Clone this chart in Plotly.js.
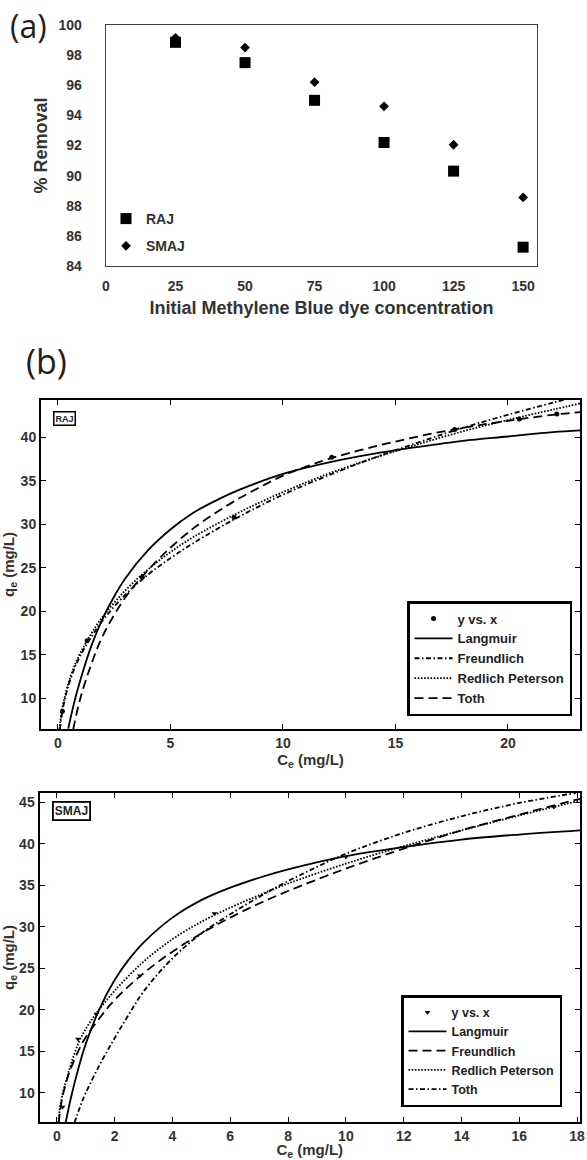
<!DOCTYPE html>
<html>
<head>
<meta charset="utf-8">
<script src="https://cdn.plot.ly/plotly-3.0.1.min.js"></script>
<style>html,body{margin:0;padding:0;background:#fff;}#chart{width:587px;height:1160px;}</style>
</head>
<body>
<div id="chart"></div>
<script>
// ---- Panel (a) data ----
var concentration = [25, 50, 75, 100, 125, 150];
var removalRAJ = [98.85, 97.5, 95.0, 92.2, 90.3, 85.25];
var removalSMAJ = [99.15, 98.5, 96.2, 94.6, 92.05, 88.55];

// ---- Panel (b) RAJ data ----
var rajCe = [0.2, 1.3, 3.75, 7.83, 12.17, 17.63, 20.5, 22.17];
var rajQe = [8.5, 16.6, 23.9, 30.8, 37.7, 40.9, 42.1, 42.7];
var rajLangX = [0.46, 0.75, 1, 1.5, 2, 2.5, 3, 4, 5, 6, 7, 8, 10, 12, 14, 16, 18, 20, 22, 23.2];
var rajLangY = [6.5, 9.75, 12.1, 16.1, 19.2, 21.7, 23.8, 27.0, 29.4, 31.3, 32.7, 33.9, 35.8, 37.1, 38.1, 38.9, 39.6, 40.1, 40.6, 40.8];
var rajFreuX = [0.09, 0.2, 0.35, 0.5, 0.75, 1, 1.5, 2, 3, 4, 5, 6, 8, 10, 12, 14, 16, 18, 20, 22, 22.6];
var rajFreuY = [6.4, 8.5, 10.3, 11.7, 13.5, 14.9, 17.1, 19.0, 21.9, 24.2, 26.1, 27.8, 30.8, 33.4, 35.6, 37.6, 39.4, 41.1, 42.6, 44.0, 44.4];
var rajRPX = [0.07, 0.1, 0.2, 0.35, 0.5, 0.75, 1, 1.5, 2, 3, 4, 5, 6, 8, 10, 12, 14, 16, 18, 20, 22, 23.2];
var rajRPY = [6.4, 7.2, 8.9, 10.6, 12.0, 13.8, 15.2, 17.5, 19.4, 22.4, 24.8, 26.8, 28.5, 31.3, 33.7, 35.8, 37.6, 39.2, 40.7, 42.0, 43.2, 43.9];
var rajTothX = [0.68, 1, 1.5, 2, 3, 4, 5, 6, 7, 8, 9, 10, 11, 12, 14, 16, 18, 20, 22, 23.2];
var rajTothY = [6.4, 10.0, 14.0, 17.2, 21.6, 24.7, 27.3, 29.5, 31.3, 32.9, 34.3, 35.6, 36.6, 37.5, 38.9, 40.1, 41.1, 41.9, 42.6, 42.9];

// ---- Panel (b) SMAJ data ----
var smajCe = [0.2, 0.73, 1.37, 2.87, 5.45, 10.0, 17.2];
var smajQe = [8.3, 16.5, 19.5, 24.1, 31.6, 38.4, 44.4];
var smajLangX = [0.31, 0.5, 0.75, 1, 1.5, 2, 2.5, 3, 4, 5, 6, 7, 8, 10, 12, 14, 16, 18.1];
var smajLangY = [6.5, 9.6, 13.0, 15.9, 20.3, 23.6, 26.1, 28.1, 31.1, 33.2, 34.7, 35.9, 36.9, 38.5, 39.6, 40.5, 41.1, 41.6];
var smajFreuX = [0.066, 0.1, 0.2, 0.35, 0.5, 0.75, 1, 1.5, 2, 3, 4, 5, 6, 7, 8, 10, 12, 14, 16, 18.1];
var smajFreuY = [6.4, 7.5, 9.6, 11.6, 13.1, 15.1, 16.7, 19.1, 21.2, 24.4, 27.0, 29.2, 31.1, 32.8, 34.3, 37.0, 39.4, 41.6, 43.5, 45.4];
var smajRPX = [0.05, 0.1, 0.2, 0.35, 0.5, 0.75, 1, 1.37, 2, 3, 4, 5, 6, 7, 8, 10, 12, 14, 16, 18.1];
var smajRPY = [6.4, 8.0, 9.9, 11.8, 13.6, 16.0, 17.7, 19.6, 22.3, 25.8, 28.5, 30.6, 32.3, 33.8, 35.2, 37.6, 39.7, 41.6, 43.4, 45.2];
var smajTothX = [0.61, 0.8, 1, 1.5, 2, 2.5, 3, 4, 5, 6, 7, 8, 9, 10, 12, 14, 16, 17.95];
var smajTothY = [6.4, 8.3, 10.0, 13.5, 16.6, 19.5, 22.2, 26.2, 29.2, 31.5, 33.6, 35.5, 37.2, 38.8, 41.3, 43.3, 44.9, 46.1];

var xTicksA = [0, 25, 50, 75, 100, 125, 150];

var W = 587, H = 1160;
function px(x) { return x / W; }
function py(y) { return 1 - y / H; }

var ARIAL = 'Arial, "Liberation Sans", sans-serif';
var NARROW = '"Liberation Sans Narrow", "Arial Narrow", Arial, "Liberation Sans", sans-serif';
var DASHDOT = '5px,2.5px,1.5px,2.5px';
var DOTTED = '1.6px,1.6px';
var DASHED = '9px,5px';
var LW = 1.8;

var traces = [
  // Panel (a)
  {x: concentration, y: removalSMAJ, type: 'scatter', mode: 'markers', name: 'SMAJ',
   xaxis: 'x', yaxis: 'y', legend: 'legend', legendrank: 2, legendgroup: 'smaj',
   marker: {symbol: 'diamond', size: 7.5, color: '#000'}},
  {x: concentration, y: removalRAJ, type: 'scatter', mode: 'markers', name: 'RAJ',
   xaxis: 'x', yaxis: 'y', legend: 'legend', legendrank: 1, legendgroup: 'raj',
   marker: {symbol: 'square', size: 11, color: '#000'}},

  // RAJ
  {x: rajCe, y: rajQe, type: 'scatter', mode: 'markers', name: 'y vs. x',
   xaxis: 'x2', yaxis: 'y2', legend: 'legend2', marker: {symbol: 'circle', size: 5, color: '#000'}},
  {x: rajLangX, y: rajLangY, type: 'scatter', mode: 'lines', name: 'Langmuir',
   xaxis: 'x2', yaxis: 'y2', legend: 'legend2', line: {color: '#000', width: LW, shape: 'spline', dash: 'solid'}},
  {x: rajFreuX, y: rajFreuY, type: 'scatter', mode: 'lines', name: 'Freundlich',
   xaxis: 'x2', yaxis: 'y2', legend: 'legend2', line: {color: '#000', width: LW, shape: 'spline', dash: DASHDOT}},
  {x: rajRPX, y: rajRPY, type: 'scatter', mode: 'lines', name: 'Redlich Peterson',
   xaxis: 'x2', yaxis: 'y2', legend: 'legend2', line: {color: '#000', width: LW, shape: 'spline', dash: DOTTED}},
  {x: rajTothX, y: rajTothY, type: 'scatter', mode: 'lines', name: 'Toth',
   xaxis: 'x2', yaxis: 'y2', legend: 'legend2', line: {color: '#000', width: LW, shape: 'spline', dash: DASHED}},

  // SMAJ
  {x: smajCe, y: smajQe, type: 'scatter', mode: 'markers', name: 'y vs. x',
   xaxis: 'x3', yaxis: 'y3', legend: 'legend3', marker: {symbol: 'triangle-down', size: 5, color: '#000'}},
  {x: smajLangX, y: smajLangY, type: 'scatter', mode: 'lines', name: 'Langmuir',
   xaxis: 'x3', yaxis: 'y3', legend: 'legend3', line: {color: '#000', width: LW, shape: 'spline', dash: 'solid'}},
  {x: smajFreuX, y: smajFreuY, type: 'scatter', mode: 'lines', name: 'Freundlich',
   xaxis: 'x3', yaxis: 'y3', legend: 'legend3', line: {color: '#000', width: LW, shape: 'spline', dash: DASHED}},
  {x: smajRPX, y: smajRPY, type: 'scatter', mode: 'lines', name: 'Redlich Peterson',
   xaxis: 'x3', yaxis: 'y3', legend: 'legend3', line: {color: '#000', width: LW, shape: 'spline', dash: DOTTED}},
  {x: smajTothX, y: smajTothY, type: 'scatter', mode: 'lines', name: 'Toth',
   xaxis: 'x3', yaxis: 'y3', legend: 'legend3', line: {color: '#000', width: LW, shape: 'spline', dash: DASHDOT}}
];

var tickFontA = {family: ARIAL, size: 14, weight: 'bold', color: '#333'};
var tickFontB = {family: ARIAL, size: 14, weight: 'bold', color: '#333'};
var titleFontB = {family: ARIAL, size: 15, weight: 'bold', color: '#333'};

function bAxisCommon() {
  return {
    showline: true, linecolor: '#000', linewidth: 2, mirror: 'ticks',
    ticks: 'inside', ticklen: 5, tickwidth: 1, tickcolor: '#000',
    showgrid: false, zeroline: false, tickfont: tickFontB, fixedrange: true
  };
}

var layout = {
  width: W, height: H,
  margin: {l: 0, r: 0, t: 0, b: 0},
  paper_bgcolor: '#fff', plot_bgcolor: '#fff',
  showlegend: true,
  xaxis: {
    domain: [px(106), px(537)], range: [0, 155], tickvals: xTicksA,
    showline: true, mirror: true, linecolor: '#404040', linewidth: 1.3,
    ticks: '', showgrid: false, zeroline: false, tickfont: tickFontA,
    ticklabelstandoff: 7, anchor: 'y',
    title: {text: 'Initial Methylene Blue dye concentration', standoff: 8,
            font: {family: ARIAL, size: 18, weight: 'bold', color: '#333'}}
  },
  yaxis: {
    domain: [py(266), py(25)], range: [84, 100], dtick: 2, tick0: 84,
    showline: true, mirror: true, linecolor: '#404040', linewidth: 1.3,
    ticks: '', showgrid: false, zeroline: false,
    tickfont: {family: NARROW, size: 14, weight: 'bold', color: '#333'},
    ticklabelstandoff: 20, anchor: 'x',
    title: {text: '% Removal', standoff: 6,
            font: {family: ARIAL, size: 18, weight: 'bold', color: '#333'}}
  },
  xaxis2: Object.assign(bAxisCommon(), {
    domain: [px(41), px(580)], range: [-0.75, 23.2], tickvals: [0, 5, 10, 15, 20], anchor: 'y2',
    title: {text: 'C<sub>e</sub> (mg/L)', standoff: 2, font: titleFontB}
  }),
  yaxis2: Object.assign(bAxisCommon(), {
    domain: [py(729), py(400)], range: [6.45, 44.3], tickvals: [10, 15, 20, 25, 30, 35, 40], anchor: 'x2',
    title: {text: 'q<sub>e</sub> (mg/L)', standoff: 4, font: titleFontB}
  }),
  xaxis3: Object.assign(bAxisCommon(), {
    domain: [px(39.5), px(580)], range: [-0.6, 18.1], tickvals: [0, 2, 4, 6, 8, 10, 12, 14, 16, 18], anchor: 'y3',
    title: {text: 'C<sub>e</sub> (mg/L)', standoff: 2, font: titleFontB}
  }),
  yaxis3: Object.assign(bAxisCommon(), {
    domain: [py(1122), py(793)], range: [6.5, 46.1], tickvals: [10, 15, 20, 25, 30, 35, 40, 45], anchor: 'x3',
    title: {text: 'q<sub>e</sub> (mg/L)', standoff: 4, font: titleFontB}
  }),
  legend: {
    x: px(106), xanchor: 'left', y: py(203), yanchor: 'top',
    bgcolor: 'rgba(0,0,0,0)', borderwidth: 0, tracegroupgap: 6, traceorder: 'grouped',
    font: {family: ARIAL, size: 14, weight: 'bold', color: '#333'}
  },
  legend2: {
    x: px(572), xanchor: 'right', y: py(716), yanchor: 'bottom',
    bgcolor: '#fff', bordercolor: '#000', borderwidth: 2.5, itemwidth: 38,
    font: {family: ARIAL, size: 13, weight: 'bold', color: '#222'}
  },
  legend3: {
    x: px(562), xanchor: 'right', y: py(1107), yanchor: 'bottom',
    bgcolor: '#fff', bordercolor: '#000', borderwidth: 2.5, itemwidth: 38,
    font: {family: ARIAL, size: 12.5, weight: 'bold', color: '#222'}
  },
  annotations: [
    {text: '(a)', xref: 'paper', yref: 'paper', x: px(28.5), y: py(26), xanchor: 'center', yanchor: 'middle',
     showarrow: false, font: {family: '"Open Sans", "Noto Sans", sans-serif', size: 32, color: '#231f20'}},
    {text: '(b)', xref: 'paper', yref: 'paper', x: px(46), y: py(361), xanchor: 'center', yanchor: 'middle',
     showarrow: false, font: {family: '"Open Sans", "Noto Sans", sans-serif', size: 34, color: '#231f20'}},
    {text: 'RAJ', xref: 'paper', yref: 'paper', x: px(64.5), y: py(418), xanchor: 'center', yanchor: 'middle',
     showarrow: false, bordercolor: '#000', borderwidth: 1.5, borderpad: 1, bgcolor: '#fff',
     font: {family: ARIAL, size: 9, weight: 'bold', color: '#222'}},
    {text: 'SMAJ', xref: 'paper', yref: 'paper', x: px(71.7), y: py(811), xanchor: 'center', yanchor: 'middle',
     showarrow: false, bordercolor: '#000', borderwidth: 1.8, borderpad: 1, bgcolor: '#fff',
     font: {family: ARIAL, size: 12, weight: 'bold', color: '#222'}}
  ]
};

Plotly.newPlot('chart', traces, layout, {displayModeBar: false, staticPlot: true});
</script>
</body>
</html>
